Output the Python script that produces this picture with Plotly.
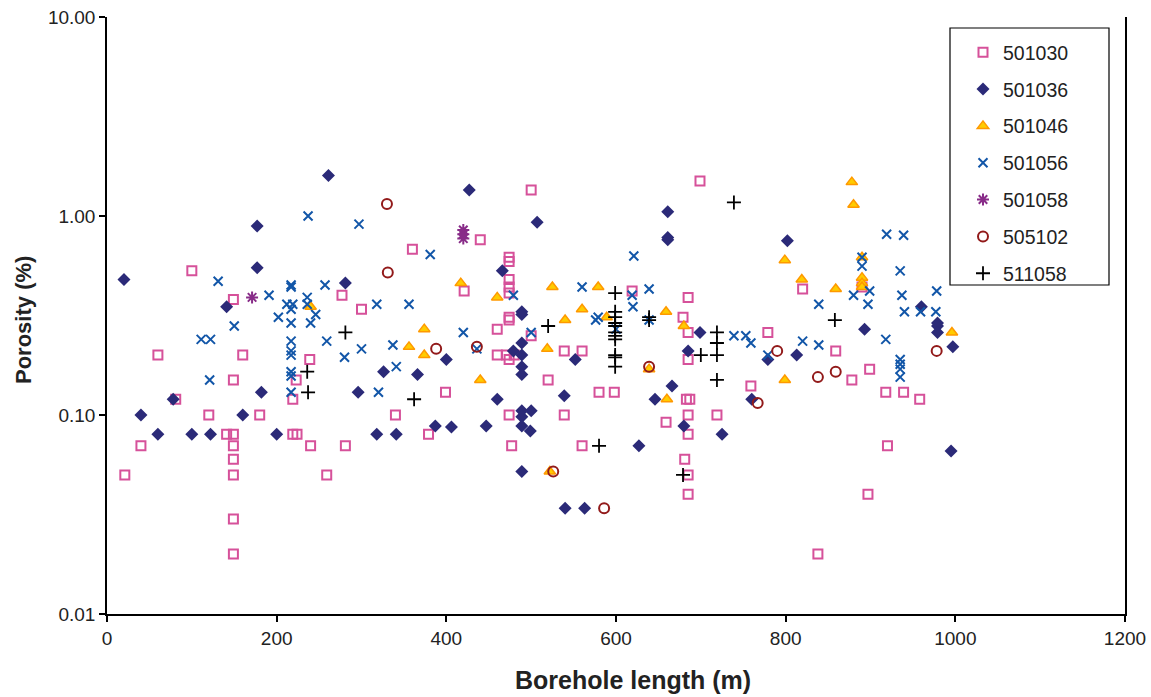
import plotly.graph_objects as go

# ---- data (borehole length m, porosity %) ----
x_501030 = [21, 40, 60, 81, 100, 120, 141, 149, 149, 149, 149, 149, 149, 149, 149, 160, 180, 219, 223, 219, 224,
            240, 239, 259, 277, 281, 300, 340, 360, 379, 399, 421, 440, 460, 460, 471, 474, 474, 474, 474, 474,
            474, 474, 474, 474, 477, 480, 500, 500, 520, 539, 539, 560, 560, 580, 598, 619, 659, 679, 681, 683,
            687, 685, 685, 685, 685, 685, 685, 685, 699, 719, 759, 779, 820, 838, 859, 878, 890, 899, 897, 918,
            920, 939, 958]
y_501030 = [0.05, 0.07, 0.2, 0.12, 0.53, 0.1, 0.08, 0.08, 0.38, 0.15, 0.07, 0.06, 0.05, 0.03, 0.02, 0.2, 0.1, 0.12, 0.15, 0.08, 0.08,
            0.07, 0.19, 0.05, 0.4, 0.07, 0.34, 0.1, 0.68, 0.08, 0.13, 0.42, 0.76, 0.27, 0.2, 0.2, 0.62, 0.59, 0.48, 0.44, 0.41,
            0.31, 0.3, 0.19, 0.1, 0.07, 0.2, 1.35, 0.25, 0.15, 0.21, 0.1, 0.21, 0.07, 0.13, 0.13, 0.42, 0.092, 0.31, 0.06, 0.12,
            0.12, 0.39, 0.26, 0.19, 0.1, 0.08, 0.05, 0.04, 1.5, 0.1, 0.14, 0.26, 0.43, 0.02, 0.21, 0.15, 0.44, 0.17, 0.04, 0.13,
            0.07, 0.13, 0.12]

x_501036 = [20, 40, 60, 78, 100, 122, 141, 160, 177, 177, 182, 200, 261, 281, 296, 318, 326, 341, 366, 387, 400, 406,
            427, 447, 460, 466, 479, 489, 489, 489, 489, 489, 489, 489, 489, 489, 489, 499, 500, 507, 539, 540, 552,
            563, 627, 646, 661, 661, 661, 666, 680, 685, 699, 725, 760, 779, 802, 813, 893, 960, 979, 979, 979, 997, 995]
y_501036 = [0.48, 0.1, 0.08, 0.12, 0.08, 0.08, 0.35, 0.1, 0.89, 0.55, 0.13, 0.08, 1.6, 0.46, 0.13, 0.08, 0.165, 0.08, 0.16, 0.088, 0.19, 0.087,
            1.35, 0.088, 0.12, 0.53, 0.21, 0.33, 0.32, 0.23, 0.2, 0.175, 0.16, 0.105, 0.098, 0.088, 0.052, 0.083, 0.105, 0.93, 0.125, 0.034, 0.19,
            0.034, 0.07, 0.12, 1.05, 0.78, 0.76, 0.14, 0.088, 0.21, 0.26, 0.08, 0.12, 0.19, 0.75, 0.2, 0.27, 0.35, 0.29, 0.28, 0.26, 0.22, 0.066]

x_501046 = [240, 356, 374, 374, 417, 440, 460, 519, 522, 525, 540, 560, 579, 589, 639, 659, 660, 680, 799, 799, 819,
            859, 878, 880, 890, 890, 890, 890, 996]
y_501046 = [0.35, 0.22, 0.27, 0.2, 0.46, 0.15, 0.39, 0.215, 0.052, 0.44, 0.3, 0.34, 0.44, 0.31, 0.17, 0.33, 0.12, 0.28, 0.6, 0.15, 0.48,
            0.43, 1.48, 1.14, 0.62, 0.49, 0.46, 0.44, 0.26]

x_501056 = [111, 121, 122, 131, 150, 191, 202, 212, 217, 217, 217, 217, 217, 217, 217, 217, 217, 217, 219, 236, 237, 236,
            240, 246, 257, 259, 280, 297, 300, 318, 320, 337, 341, 356, 381, 420, 436, 479, 500, 560, 576, 579, 600,
            619, 620, 621, 639, 639, 739, 753, 759, 779, 820, 839, 839, 880, 890, 890, 897, 899, 918, 919, 935, 935,
            935, 935, 935, 937, 939, 940, 959, 977, 978]
y_501056 = [0.24, 0.15, 0.24, 0.47, 0.28, 0.4, 0.31, 0.36, 0.45, 0.44, 0.34, 0.29, 0.235, 0.21, 0.2, 0.165, 0.157, 0.13, 0.36, 0.39, 1.0, 0.36,
            0.29, 0.32, 0.45, 0.235, 0.195, 0.91, 0.215, 0.36, 0.13, 0.225, 0.175, 0.36, 0.64, 0.26, 0.215, 0.4, 0.26, 0.44, 0.3, 0.31, 0.27,
            0.4, 0.35, 0.63, 0.43, 0.3, 0.25, 0.25, 0.23, 0.2, 0.235, 0.36, 0.225, 0.4, 0.62, 0.56, 0.36, 0.42, 0.24, 0.81, 0.53, 0.19,
            0.18, 0.17, 0.155, 0.4, 0.8, 0.33, 0.33, 0.33, 0.42]

x_501058 = [171, 420, 420, 420]
y_501058 = [0.39, 0.85, 0.81, 0.77]

x_505102 = [330, 331, 388, 436, 526, 586, 639, 767, 790, 838, 859, 978]
y_505102 = [1.15, 0.52, 0.215, 0.22, 0.052, 0.034, 0.175, 0.115, 0.21, 0.155, 0.165, 0.21]

x_511058 = [236, 237, 281, 362, 520, 580, 599, 599, 599, 599, 599, 599, 599, 599, 599, 599, 599, 639, 639, 679, 700,
            719, 719, 719, 719, 739, 858]
y_511058 = [0.165, 0.13, 0.26, 0.12, 0.28, 0.07, 0.41, 0.33, 0.31, 0.29, 0.28, 0.26, 0.25, 0.24, 0.2, 0.195, 0.175, 0.31, 0.3, 0.05, 0.2,
            0.26, 0.23, 0.2, 0.15, 1.17, 0.3]

x_ticks = [0, 200, 400, 600, 800, 1000, 1200]
y_ticks = [0.01, 0.1, 1, 10]
y_tick_text = ["0.01", "0.10", "1.00", "10.00"]

series = [
    ("501030", x_501030, y_501030, dict(symbol="square-open", size=9, color="#D6519A", line=dict(width=2, color="#D6519A"))),
    ("501036", x_501036, y_501036, dict(symbol="diamond", size=10, color="#2B2A78", line=dict(width=0))),
    ("501046", x_501046, y_501046, dict(symbol="triangle-up", size=10, color="#FFCC00", line=dict(width=1.5, color="#FF9900"))),
    ("501056", x_501056, y_501056, dict(symbol="x-thin-open", size=9, color="#1256A8", line=dict(width=2, color="#1256A8"))),
    ("501058", x_501058, y_501058, dict(symbol="asterisk-open", size=10, color="#882C88", line=dict(width=2, color="#882C88"))),
    ("505102", x_505102, y_505102, dict(symbol="circle-open", size=10, color="#921A1A", line=dict(width=2, color="#921A1A"))),
    ("511058", x_511058, y_511058, dict(symbol="cross-thin-open", size=10, color="#000000", line=dict(width=1.8, color="#000000"))),
]

fig = go.Figure()
for name, xs, ys, mk in series:
    fig.add_trace(go.Scatter(x=xs, y=ys, mode="markers", name=name, marker=mk,
                             legendgroup=name, cliponaxis=False))

W, H = 1151, 697
L, R, T, B = 107, 26, 17, 83
pw, ph = W - L - R, H - T - B

def px2paper_x(p):
    return (p - L) / pw

def px2paper_y(p):
    return (H - B - p) / ph

font_family = "Liberation Sans, Arial, sans-serif"

fig.update_layout(
    width=W, height=H,
    margin=dict(l=L, r=R, t=T, b=B, autoexpand=False),
    paper_bgcolor="white", plot_bgcolor="white",
    font=dict(family=font_family, size=19, color="#222222"),
    showlegend=True,
    legend=dict(x=px2paper_x(963), y=px2paper_y(33), xanchor="left", yanchor="top",
                bgcolor="rgba(0,0,0,0)", borderwidth=0,
                font=dict(family=font_family, size=19.5, color="#222222"),
                traceorder="grouped", tracegroupgap=8.5, itemwidth=30),
    xaxis=dict(range=[0, 1200], tickvals=x_ticks, ticks="outside", ticklen=6, tickwidth=1.5,
               tickcolor="black", showline=True, linecolor="black", linewidth=1.5,
               showgrid=False, zeroline=False,
               tickfont=dict(size=19, color="#222222")),
    yaxis=dict(type="log", range=[-2, 1], tickvals=y_ticks, ticktext=y_tick_text, ticks="outside",
               ticklen=6, tickwidth=1.5, tickcolor="black", showline=True, linecolor="black", linewidth=1.5,
               mirror=True, showgrid=False, zeroline=False,
               tickfont=dict(size=19, color="#222222")),
    annotations=[
        dict(text="<b>Borehole length (m)</b>", xref="paper", yref="paper",
             x=px2paper_x(633), y=px2paper_y(680), xanchor="center", yanchor="middle",
             showarrow=False, font=dict(size=25, color="#222222")),
        dict(text="<b>Porosity (%)</b>", xref="paper", yref="paper", textangle=-90,
             x=px2paper_x(23), y=px2paper_y(320), xanchor="center", yanchor="middle",
             showarrow=False, font=dict(size=22, color="#222222")),
    ],
)

fig.add_shape(type="rect", xref="paper", yref="paper",
              x0=px2paper_x(950), x1=px2paper_x(1109), y0=px2paper_y(285), y1=px2paper_y(28),
              line=dict(color="black", width=1.2), fillcolor="rgba(0,0,0,0)", layer="below")

fig.write_html("out.html")
